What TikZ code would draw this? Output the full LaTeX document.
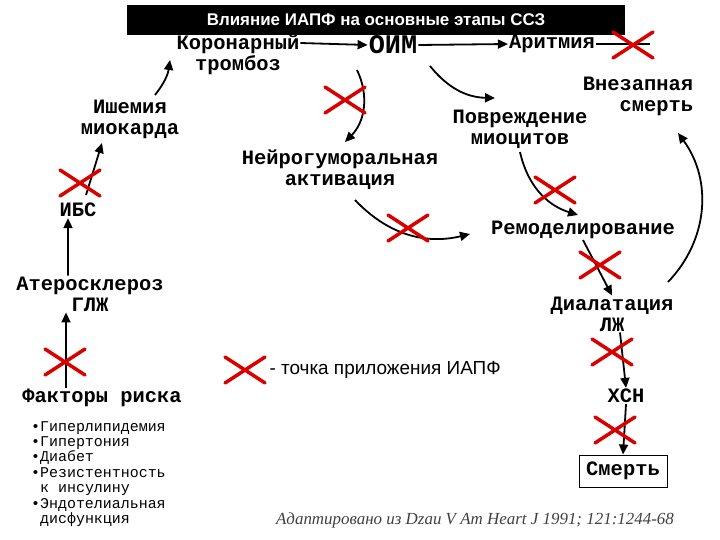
\documentclass[tikz,border=0pt]{standalone}
\usepackage{fontspec}
\setmainfont{Liberation Serif}
\newfontfamily\sansf{Liberation Sans}
\newfontfamily\monof{Liberation Mono}
\usetikzlibrary{arrows.meta}
\begin{document}
\begin{tikzpicture}[x=1bp,y=-1bp,
 lbl/.style={font=\monof\fontsize{20.5}{21}\selectfont\bfseries,align=center,inner sep=1pt},
 arr/.style={-{Triangle[length=10bp,width=9bp]},line width=1.8bp},
 xcross/.style={red!85!black,line width=3.5bp,line cap=round}]
\useasboundingbox (0,0) rectangle (720,540);
\node[fill=black,text=white,font=\sansf\fontsize{17}{18}\selectfont\bfseries,minimum width=498bp,minimum height=30bp,inner sep=0pt] (title) at (376,20) {Влияние ИАПФ на основные этапы ССЗ};
\node[lbl] (kt) at (238,55) {Коронарный\\тромбоз};
\node[lbl,font=\monof\fontsize{27}{28}\selectfont\bfseries] (oim) at (393,45) {ОИМ};
\node[lbl] (ar) at (552,44) {Аритмия};
\node[lbl,align=right] (vs) at (638,96) {Внезапная\\смерть};
\node[lbl] (ish) at (130,119) {Ишемия\\миокарда};
\node[lbl] (pov) at (520,129) {Повреждение\\миоцитов};
\node[lbl] (nga) at (340,170) {Нейрогуморальная\\активация};
\node[lbl] (ibs) at (78,210) {ИБС};
\node[lbl] (rem) at (583,230) {Ремоделирование};
\node[lbl] (ath) at (90,294) {Атеросклероз\\ГЛЖ};
\node[lbl] (dil) at (612,314) {Диалатация\\ЛЖ};
\node[lbl] (fr) at (102,398) {Факторы риска};
\node[lbl] (hsn) at (626,396) {ХСН};
\node[lbl,draw,line width=1bp,minimum width=88bp,minimum height=32bp] (sm) at (623,471) {Смерть};
\node[font=\sansf\fontsize{19}{20}\selectfont,anchor=west] (leg) at (266,370) {- точка приложения ИАПФ};
\node[anchor=north west,align=left,font=\monof\fontsize{15}{15.5}\selectfont,inner sep=0pt] (list) at (31,421) {•Гиперлипидемия\\•Гипертония\\•Диабет\\•Резистентность\\\ к инсулину\\•Эндотелиальная\\\ дисфункция};
\node[font=\fontsize{17}{18}\selectfont\itshape,text=black!75] (cap) at (475,520) {Адаптировано из Dzau V Am Heart J 1991; 121:1244-68};
% arrows
\coordinate (a1) at (86,195); \coordinate (a2) at (102,143);
\draw[arr] (a1) -- (a2);
\coordinate (a3) at (155,95); \coordinate (a4) at (170,60);
\draw[arr] (a3) to[bend right=15] (a4);
\draw[arr] (kt.east|-oim) ++(0,-2) -- (oim.west);
\draw[arr] (oim.east) -- (ar.west);
\coordinate (a5) at (430,66); \coordinate (a6) at (495,98);
\draw[arr] (a5) to[bend right=25] (a6);
\coordinate (a7) at (357,70); \coordinate (a8) at (345,142);
\draw[arr] (a7) to[bend left=35] (a8);
\coordinate (af) at (650,44);
\draw[line width=1.8bp] (ar.east) -- (af);
\coordinate (b1) at (520,152); \coordinate (b2) at (578,215);
\draw[arr] (b1) to[bend right=30] (b2);
\coordinate (b3) at (355,200); \coordinate (b4) at (470,234);
\draw[arr] (b3) to[bend right=30] (b4);
\draw[arr] (rem.south) ++(0,0) -- (dil.north);
\coordinate (b5) at (668,282); \coordinate (b6) at (678,133);
\draw[arr] (b5) to[bend right=40] (b6);
\draw[arr] (dil.south) ++(8,0) -- (hsn.north);
\draw[arr] (hsn.south) -- (sm.north);
\draw[arr] (ath.north -| ibs) ++(-10,0) -- ([xshift=-10bp]ibs.south);
\draw[arr] (fr.north -| ibs) ++(-12,0) -- ([xshift=-12bp]ath.south -| ibs);
% crosses
\foreach \x/\y in {80/183, 345/100, 633/45, 555/190, 408/228, 600/265, 612/352, 615/430, 65/362, 245/370}
 {\draw[xcross] (\x-20,\y-13) -- (\x+20,\y+13); \draw[xcross] (\x-20,\y+13) -- (\x+20,\y-13);}
\end{tikzpicture}
\end{document}
